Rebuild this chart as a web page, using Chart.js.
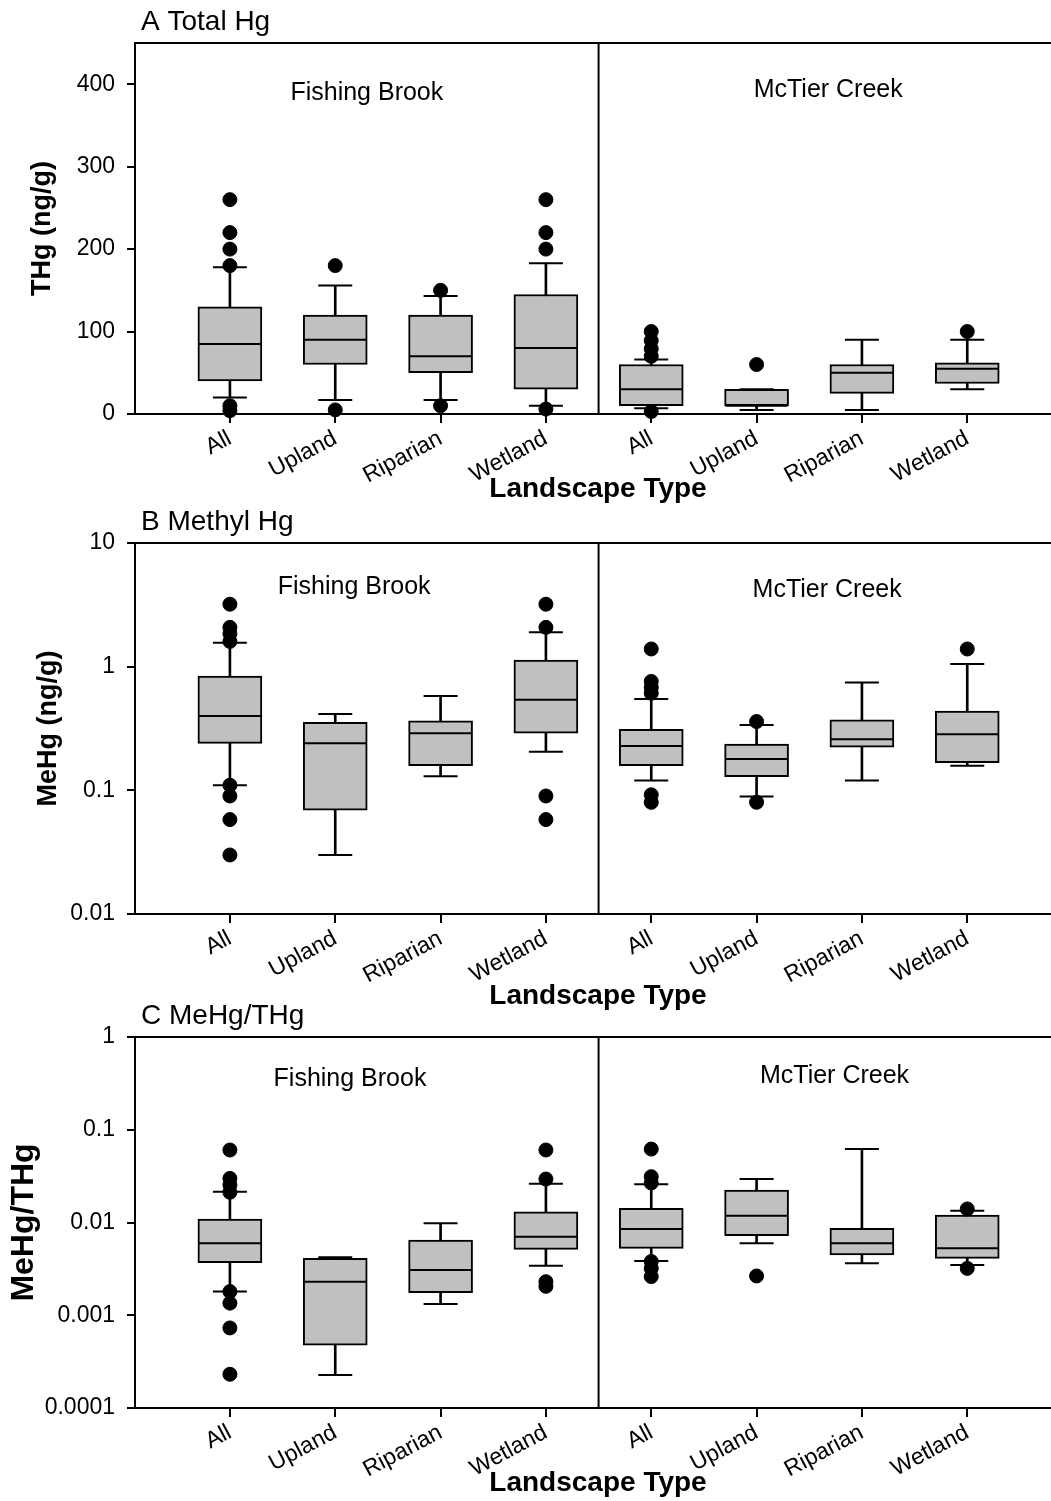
<!DOCTYPE html>
<html>
<head>
<meta charset="utf-8">
<script src="https://cdn.jsdelivr.net/npm/chart.js@4.4.1/dist/chart.umd.min.js"></script>
<style>
  html, body { margin: 0; padding: 0; background: #fff; overflow: hidden; }
  #page { position: relative; width: 1051px; height: 1501px; overflow: hidden; }
  canvas { position: absolute; left: 0; }
</style>
</head>
<body>
<div id="page">
  <canvas id="thg-chart" width="1094" height="507" style="top:0px"></canvas>
  <canvas id="mehg-chart" width="1094" height="517" style="top:497px"></canvas>
  <canvas id="ratio-chart" width="1094" height="511" style="top:990px"></canvas>
</div>
<script>
// categories
const xPositions = [1, 2, 3, 4, 5, 6, 7, 8];
const landscapeLabels = ["All", "Upland", "Riparian", "Wetland", "All", "Upland", "Riparian", "Wetland"];
const siteLabels = ["Fishing Brook", "McTier Creek"];

// A Total Hg (ng/g)
const thgLow = [20, 17, 17, 10, 7, 5, 5, 30];
const thgQ1 = [40, 60, 50, 30, 10, 10, 25, 37];
const thgMedian = [85, 90, 70, 80, 30, 10, 50, 55];
const thgQ3 = [130, 120, 120, 145, 60, 30, 60, 62];
const thgHigh = [178, 156, 143, 183, 66, 30, 90, 90];
const thgOutliers = [
  [260, 220, 200, 180, 10, 4],
  [180, 5],
  [150, 10],
  [260, 220, 200, 6],
  [100, 89, 79, 70, 3],
  [60],
  [],
  [100],
];
const thgTicks = [0, 100, 200, 300, 400];

// B Methyl Hg (ng/g)
const mehgLow = [0.11, 0.03, 0.13, 0.205, 0.12, 0.089, 0.12, 0.158];
const mehgQ1 = [0.24, 0.069, 0.158, 0.29, 0.158, 0.129, 0.223, 0.167];
const mehgMedian = [0.4, 0.24, 0.289, 0.54, 0.228, 0.179, 0.259, 0.284];
const mehgQ3 = [0.84, 0.355, 0.364, 1.13, 0.311, 0.237, 0.371, 0.438];
const mehgHigh = [1.56, 0.414, 0.58, 1.9, 0.547, 0.337, 0.746, 1.05];
const mehgOutliers = [
  [3.2, 2.08, 1.85, 1.6, 0.11, 0.09, 0.058, 0.03],
  [],
  [],
  [3.2, 2.08, 0.09, 0.058],
  [1.39, 0.76, 0.68, 0.61, 0.092, 0.08],
  [0.36, 0.08],
  [],
  [1.39],
];
const mehgTicks = [0.01, 0.1, 1, 10];

// C MeHg/THg
const ratioLow = [0.0018, 0.000227, 0.00132, 0.00342, 0.00385, 0.00597, 0.00363, 0.00348];
const ratioQ1 = [0.00369, 0.000477, 0.00175, 0.00514, 0.00527, 0.00721, 0.00447, 0.00411];
const ratioMedian = [0.00597, 0.0023, 0.00308, 0.00703, 0.00851, 0.0118, 0.00597, 0.00527];
const ratioQ3 = [0.0109, 0.00411, 0.00647, 0.01306, 0.01422, 0.0224, 0.00865, 0.01205];
const ratioHigh = [0.0215, 0.00422, 0.0098, 0.0262, 0.0258, 0.0294, 0.0619, 0.0134];
const ratioOutliers = [
  [0.0605, 0.0299, 0.0254, 0.0212, 0.0018, 0.00135, 0.00073, 0.000231],
  [],
  [],
  [0.0605, 0.0294, 0.0023, 0.00205],
  [0.0619, 0.0312, 0.0267, 0.0038, 0.0032, 0.00261],
  [0.00265],
  [],
  [0.014, 0.0032],
];
const ratioTicks = [0.0001, 0.001, 0.01, 0.1, 1];

const FONT = '"Liberation Sans", Arial, Helvetica, sans-serif';
Chart.defaults.font.family = FONT;
Chart.defaults.color = "#000";

// frame top line, site divider, site names and panel letter
const panelDecor = {
  id: "panelDecor",
  afterDraw(chart, args, opts) {
    const { ctx, chartArea, scales } = chart;
    const x = scales.x;
    const y = scales.y;
    ctx.save();
    ctx.strokeStyle = "#000";
    ctx.lineWidth = 2;
    ctx.beginPath();
    ctx.moveTo(chartArea.left, chartArea.top);
    ctx.lineTo(chartArea.right, chartArea.top);
    const divX = x.getPixelForValue(opts.divider);
    ctx.moveTo(divX, chartArea.top);
    ctx.lineTo(divX, chartArea.bottom);
    ctx.stroke();

    ctx.fillStyle = "#000";
    ctx.textBaseline = "middle";
    ctx.textAlign = "center";
    ctx.font = "25px " + FONT;
    opts.sitePos.forEach((p, i) => {
      ctx.fillText(siteLabels[i], x.getPixelForValue(p[0]), y.getPixelForValue(p[1]));
    });

    ctx.textAlign = "left";
    ctx.font = "28px " + FONT;
    ctx.fillText(opts.title, chartArea.left + 6, chartArea.top - 21);
    ctx.restore();
  },
};

function boxDatasets(low, q1, median, q3, high, outliers) {
  const outlierPoints = [];
  outliers.forEach((list, i) => {
    list.forEach((v) => outlierPoints.push({ x: xPositions[i], y: v }));
  });
  return [
    {
      type: "scatter",
      data: outlierPoints,
      pointStyle: "circle",
      pointRadius: 7,
      pointBackgroundColor: "#000",
      pointBorderColor: "#000",
      pointBorderWidth: 1,
      clip: false,
      order: 0,
    },
    {
      type: "scatter",
      data: xPositions
        .map((x, i) => ({ x, y: low[i] }))
        .concat(xPositions.map((x, i) => ({ x, y: high[i] }))),
      pointStyle: "line",
      pointRadius: 17,
      pointBorderColor: "#000",
      pointBorderWidth: 2,
      clip: false,
      order: 1,
    },
    {
      type: "scatter",
      data: xPositions.map((x, i) => ({ x, y: median[i] })),
      pointStyle: "line",
      pointRadius: 31,
      pointBorderColor: "#000",
      pointBorderWidth: 2,
      order: 2,
    },
    {
      type: "bar",
      data: xPositions.map((x, i) => ({ x, y: [q1[i], q3[i]] })),
      backgroundColor: "#c0c0c0",
      borderColor: "#000",
      borderWidth: 2,
      borderSkipped: false,
      barThickness: 64,
      grouped: false,
      order: 3,
    },
    {
      type: "bar",
      data: xPositions.map((x, i) => ({ x, y: [low[i], high[i]] })),
      backgroundColor: "#000",
      borderWidth: 0,
      barThickness: 2,
      grouped: false,
      order: 4,
    },
  ];
}

function makePanel(canvasId, panel) {
  return new Chart(document.getElementById(canvasId), {
    type: "bar",
    data: {
      datasets: boxDatasets(panel.low, panel.q1, panel.median, panel.q3, panel.high, panel.outliers),
    },
    plugins: [panelDecor],
    options: {
      responsive: false,
      animation: false,
      events: [],
      layout: { padding: { top: panel.padTop, right: 0, bottom: 0, left: 0 } },
      plugins: {
        legend: { display: false },
        tooltip: { enabled: false },
        panelDecor: { title: panel.title, divider: 4.5, sitePos: panel.sitePos },
      },
      scales: {
        x: {
          type: "linear",
          min: 0.099,
          max: 8.89,
          offset: false,
          afterBuildTicks: (scale) => {
            scale.ticks = xPositions.map((v) => ({ value: v }));
          },
          afterFit: (scale) => {
            scale.height = panel.xAxisHeight;
          },
          ticks: {
            autoSkip: false,
            minRotation: 28,
            maxRotation: 28,
            padding: 2,
            font: { size: 23 },
            callback: (v) => landscapeLabels[xPositions.indexOf(v)],
          },
          grid: {
            offset: false,
            drawOnChartArea: false,
            drawTicks: true,
            tickLength: 9,
            color: "#000",
            lineWidth: 2,
          },
          border: { display: true, color: "#000", width: 2 },
          title: {
            display: true,
            text: "Landscape Type",
            font: { size: 28, weight: "bold" },
            padding: { top: 0, bottom: 1 },
          },
        },
        y: {
          type: panel.yType,
          min: panel.yMin,
          max: panel.yMax,
          afterBuildTicks: (scale) => {
            scale.ticks = panel.yTicks.map((v) => ({ value: v }));
          },
          afterFit: (scale) => {
            scale.width = 135;
          },
          ticks: {
            padding: 12,
            font: { size: 23 },
            callback: (v) => String(v),
          },
          grid: { drawOnChartArea: false, drawTicks: true, tickLength: 8, color: "#000", lineWidth: 2 },
          border: { display: true, color: "#000", width: 2 },
          title: {
            display: true,
            text: panel.yTitle,
            font: { size: panel.yTitleSize, weight: "bold" },
            padding: { top: panel.yTitlePad, bottom: 0 },
          },
        },
      },
    },
  });
}

makePanel("thg-chart", {
  title: "A Total Hg",
  yTitle: "THg (ng/g)",
  yTitleSize: 27,
  yTitlePad: 26,
  yType: "linear",
  yMin: 0,
  yMax: 450,
  yTicks: thgTicks,
  padTop: 43,
  xAxisHeight: 93,
  sitePos: [[2.3, 389], [6.68, 393]],
  low: thgLow,
  q1: thgQ1,
  median: thgMedian,
  q3: thgQ3,
  high: thgHigh,
  outliers: thgOutliers,
});

makePanel("mehg-chart", {
  title: "B Methyl Hg",
  yTitle: "MeHg (ng/g)",
  yTitleSize: 27,
  yTitlePad: 32,
  yType: "logarithmic",
  yMin: 0.01,
  yMax: 10,
  yTicks: mehgTicks,
  padTop: 46,
  xAxisHeight: 100,
  sitePos: [[2.18, 4.4], [6.67, 4.17]],
  low: mehgLow,
  q1: mehgQ1,
  median: mehgMedian,
  q3: mehgQ3,
  high: mehgHigh,
  outliers: mehgOutliers,
});

makePanel("ratio-chart", {
  title: "C MeHg/THg",
  yTitle: "MeHg/THg",
  yTitleSize: 32,
  yTitlePad: 5,
  yType: "logarithmic",
  yMin: 0.0001,
  yMax: 1,
  yTicks: ratioTicks,
  padTop: 47,
  xAxisHeight: 93,
  sitePos: [[2.14, 0.352], [6.74, 0.38]],
  low: ratioLow,
  q1: ratioQ1,
  median: ratioMedian,
  q3: ratioQ3,
  high: ratioHigh,
  outliers: ratioOutliers,
});
</script>
</body>
</html>
